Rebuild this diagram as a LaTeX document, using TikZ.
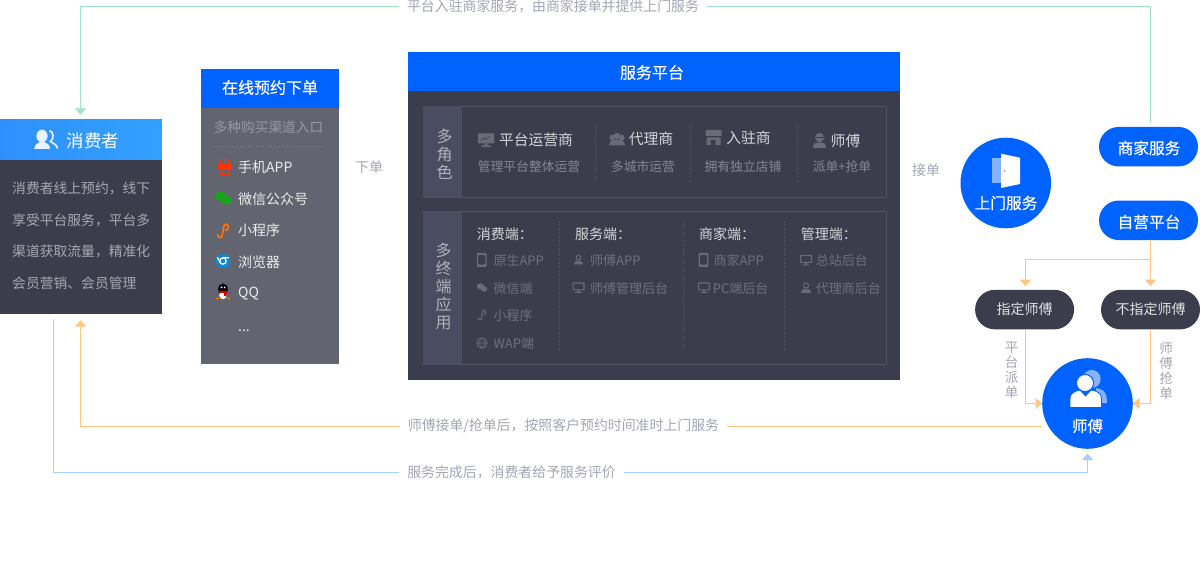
\documentclass[tikz,border=0pt]{standalone}
\usepackage{fontspec}
\setmainfont{Noto Sans CJK SC}
\newfontfamily\headfont[FakeBold=0.25]{Noto Sans CJK SC}
\usepackage{xcolor}
\usepackage{tikz}
\usetikzlibrary{arrows.meta,calc}
\definecolor{bluemain}{HTML}{0062FF}
\definecolor{bluelight}{HTML}{33A0FF}
\definecolor{bluepale}{HTML}{85B3FF}
\definecolor{darkbody}{HTML}{3B3D4D}
\definecolor{greybody}{HTML}{62646F}
\definecolor{sidebar}{HTML}{4A4D60}
\definecolor{rim}{HTML}{505265}
\definecolor{sepline}{HTML}{585A6C}
\definecolor{icondim}{HTML}{696B79}
\definecolor{txtlabel}{HTML}{A3A5B3}
\definecolor{txtbody}{HTML}{A8A9B2}
\definecolor{txtdim}{HTML}{6E707E}
\definecolor{txtsub}{HTML}{858794}
\definecolor{txthead}{HTML}{D5D6DB}
\definecolor{linegreen}{HTML}{9FE3C4}
\definecolor{lineorange}{HTML}{FFC67F}
\definecolor{lineblue}{HTML}{A6D0FA}
\tikzset{
  pics/monitoricon/.style={code={
    \fill[#1,even odd rule,rounded corners=0.5pt] (-6,-5) rectangle (6,3) (-4.8,-3.8) rectangle (4.8,1.8);
    \fill[#1] (-1.2,3) rectangle (1.2,4.6) (-3.5,4.6) rectangle (3.5,5.5);
  }},
  pics/screenicon/.style={code={
    \fill[#1,rounded corners=0.5pt] (-8,-6.5) rectangle (8,3.5);
    \draw[darkbody,line width=0.7pt] (-5,0.5) -- (-2,-2) -- (0,-0.5) -- (4,-4);
    \fill[#1] (-1.5,3.5) rectangle (1.5,5.5) (-4.5,5.5) rectangle (4.5,7);
  }},
  pics/phoneicon/.style={code={
    \fill[#1,even odd rule,rounded corners=1pt] (-4.8,-7) rectangle (4.8,7) (-3.6,-5) rectangle (3.6,4.6);
  }},
  pics/personicon/.style={code={
    \draw[#1,line width=1pt] (0,-2.5) circle (2.6);
    \fill[#1] (-5,5) .. controls (-5,1.5) and (-2.5,1) .. (-1.5,1) -- (1.5,1) .. controls (2.5,1) and (5,1.5) .. (5,5) -- cycle;
  }},
  pics/bigpersonicon/.style={code={
    \fill[#1] (0,-3) circle (4.6);
    \fill[#1] (-6.5,7.5) .. controls (-6.5,3) and (-4,2) .. (-2,2) -- (2,2) .. controls (4,2) and (6.5,3) .. (6.5,7.5) -- cycle;
    \fill[darkbody] (-4.5,-3.5) rectangle (4.5,-2.7);
  }},
  pics/peopleicon/.style={code={
    \fill[#1] (-4.8,-2) circle (2.8) (4.8,-2) circle (2.8) (0,-3.5) circle (3.2);
    \fill[#1] (-8,6) .. controls (-8,0.5) and (-3,0) .. (0,0) .. controls (3,0) and (8,0.5) .. (8,6) -- cycle;
  }},
  pics/shopicon/.style={code={
    \fill[#1,rounded corners=1pt] (-8,-7.5) rectangle (8,-1);
    \fill[#1,even odd rule] (-7,0) rectangle (7,7.5) (-3,2.5) rectangle (2,7.5);
    \draw[darkbody,line width=0.6pt] (-8,-1) -- (8,-1);
  }},
  pics/wechaticon/.style={code={
    \fill[#1] (-1.8,-1.3) ellipse (4.2 and 3.6);
    \fill[#1] (2.6,1.8) ellipse (3.8 and 3.2);
  }},
  pics/linkicon/.style={code={
    \draw[#1,line cap=round] (-4.5,3) .. controls (-4.5,6.5) and (-0.5,6.5) .. (-0.5,3) -- (0.5,-3) .. controls (0.5,-6.5) and (4.5,-6.5) .. (4.5,-3) .. controls (4.5,-1) and (3,-0.5) .. (2,-0.5);
  }},
  pics/globeicon/.style={code={
    \draw[#1,line width=0.8pt] (0,0) circle (5.2) (0,0) ellipse (2.4 and 5.2) (-5.2,0) -- (5.2,0);
  }},
  pics/phoneredicon/.style={code={
    \draw[#1,line width=1.4pt,rounded corners=1pt] (-4.5,-7.5) rectangle (4.5,7.5);
    \fill[#1,rounded corners=1pt] (-7,-3) rectangle (7,2.5);
  }},
  pics/chromeicon/.style={code={
    \fill[#1] (0,0) circle (7.2);
    \draw[white,line width=1.2pt] (0,0) circle (3.2);
    \draw[white,line width=1.2pt] (0,-3.2) -- (6,-3.2) (-2.8,1.6) -- (-5.6,-3.6);
  }},
  pics/penguinicon/.style={code={
    \fill[black] (0,-2.5) ellipse (4.8 and 6);
    \fill[white] (0,3.2) ellipse (3.8 and 4);
    \fill[red!85!black] (-4.5,-1.2) rectangle (4.5,1) (1,1) rectangle (3.5,3.8);
    \fill[orange] (-5.5,6.5) ellipse (1.5 and 1) (5.5,6.5) ellipse (1.5 and 1);
    \fill[white] (-1.6,-4.6) circle (1) (1.6,-4.6) circle (1);
  }},
}
\begin{document}
\begin{tikzpicture}[x=1pt,y=-1pt,
  panel/.style n args={3}{rectangle,fill=#1,minimum width=#2pt,minimum height=#3pt,inner sep=0pt},
  pill/.style n args={2}{rectangle,fill=#1,text=#2,minimum width=99pt,minimum height=39.5pt,rounded corners=19.7pt,inner sep=0pt,font=\headfont\fontsize{15.7}{15.7}\selectfont},
  disc/.style={circle,fill=bluemain,minimum size=90.6pt,inner sep=0pt},
  sz/.style n args={2}{inner sep=0pt,text=#1,font=\fontsize{#2}{#2}\selectfont},
  hd/.style n args={2}{inner sep=0pt,text=#1,font=\headfont\fontsize{#2}{#2}\selectfont},
  toleft/.style={anchor=west},
  vert/.style={align=center,font=\fontsize{#1}{#1}\selectfont,inner sep=0pt},
  flowlbl/.style={inner sep=0pt,inner xsep=8pt,text=txtlabel,font=\fontsize{13.9}{14}\selectfont},
  flow/.style={#1,line width=1pt},
  tip/.style={-{Triangle[length=6.5pt,width=11pt]}},
  sep/.style={sepline,line width=0.6pt,dotted},
  ]
\useasboundingbox (0,0) rectangle (1200,580);
% consumer
\node[panel={darkbody}{162}{195}] (cust) at (80.5,216.5) {};
\node[panel={bluelight}{162}{39.5},left color=bluelight!90!blue,right color=bluelight] (custhead) at (80.5,139.75) {};
\fill[white!88!bluelight] (42,136) ellipse (5.6 and 6.4);
\fill[white!88!bluelight] (34.3,149) .. controls (34.3,144) and (38,143.5) .. (40,142) -- (44,142) .. controls (47,143.5) and (50,144) .. (50,149) -- cycle;
\draw[white!88!bluelight,line width=1.6pt] (49.5,130.5) .. controls (54,132) and (54,139) .. (50.5,141.5) .. controls (53,144) and (57,144) .. (57.5,148.5);
\node[sz={white}{17.5}] (custtitle) at (93,140.7) {消费者};
\foreach \y/\1/\2 in %
{188.3/消费者线上预约，线下/a,220/享受平台服务，平台多/b,251.7/渠道获取流量，精准化/c,283/会员营销、会员管理/d} {
   \node[sz={txtbody}{13.8},toleft] (cust\2) at (12,\y) {\1};
}
% online order
\node[panel={greybody}{138}{295}] (order) at (270,216.5) {};
\node[panel={bluemain}{138}{39}] (orderhead) at (270,88.5) {};
\node[hd={white}{16}] (ordertitle) at (270,87.5) {在线预约下单};
\node[sz={txtlabel!80!greybody}{13.7},toleft] (ordersub) at (213.5,127.7) {多种购买渠道入口};
\draw[sep,sepline!60!greybody!80!white] (214,146) -- (323,146);
\foreach \y/\1/\2 in %
{167/手机APP/a,199/微信公众号/b,230.5/小程序/c,261.7/浏览器/d,293.5/QQ/e,331/{...}/f} {
   \node[sz={white!88!greybody}{14},toleft] (order\2) at (238,\y) {\1};
}
\pic at (224.5,167) {phoneredicon=red!60!orange};
\pic[scale=1.35] at (223,198) {wechaticon={green!60!black!90!white}};
\pic[scale=1.2] at (223,231) {linkicon={orange!90!red,line width=1.7pt}};
\pic at (223,261) {chromeicon={cyan!70!blue}};
\pic at (223,292) {penguinicon};
% platform
\node[panel={darkbody}{492}{328.5}] (plat) at (654,216.2) {};
\node[panel={bluemain}{492}{39.3}] (plathead) at (654,71.7) {};
\node[hd={white}{16}] (plattitle) at (652,72.5) {服务平台};
\node[panel={darkbody}{463}{90.7},draw=rim] (roles) at (654.2,151.4) {};
\node[panel={sidebar}{39.3}{90.7}] (roleside) at (442.4,151.4) {};
\node[vert=16,text=txtbody!90!white] (roletxt) at (444.5,154.3) {多\\[2pt]角\\[2pt]色};
\node[panel={darkbody}{463}{152.6},draw=rim] (ends) at (654.2,288) {};
\node[panel={sidebar}{39.3}{152.6}] (endside) at (442.4,288) {};
\node[vert=16,text=txtbody!90!white] (endtxt) at (443.5,286.7) {多\\[2pt]终\\[2pt]端\\[2pt]应\\[2pt]用};
\foreach \x/\y/\1/\2 in %
{536/139.8/平台运营商/a,651/139.2/代理商/b,748.5/138.2/入驻商/c,845.5/140.5/师傅/d} {
   \node[sz={txthead}{14.8}] (role\2) at (\x,\y) {\1};
}
\foreach \x/\1/\2 in %
{529/管理平台整体运营/a,643/多城市运营/b,743/拥有独立店铺/c,842/派单+抢单/d} {
   \node[sz={txtsub}{12.8}] (rolesub\2) at (\x,167) {\1};
}
\foreach \x in {595.5,690.5,797.5} {
   \draw[sep] (\x,124) -- (\x,182.7);
}
\pic at (486,140) {screenicon=icondim};
\pic at (617,139.5) {peopleicon=icondim};
\pic at (713.7,137.5) {shopicon=icondim};
\pic at (819.5,140.5) {bigpersonicon=icondim};
\foreach \x/\1/\2 in %
{476.7/消费端：/a,575/服务端：/b,699/商家端：/c,800.7/管理端：/d} {
   \node[sz={txthead}{14},toleft] (endhead\2) at (\x,234.3) {\1};
}
\foreach \x/\y/\1/\2 in %
{493.3/260.7/原生APP/a,493.3/288.2/微信端/b,493.3/315.5/小程序/c,493.3/343.2/WAP端/d,
 590/260.7/师傅APP/e,590/288.5/师傅管理后台/f,
 713.3/260.7/商家APP/g,712.7/288.5/PC端后台/h,
 815.7/260.7/总站后台/i,815.7/288.5/代理商后台/j} {
   \node[sz={txtdim}{13},toleft] (item\2) at (\x,\y) {\1};
}
\foreach \x in {559.5,683.5,784.5} {
   \draw[sep] (\x,221.7) -- (\x,351.7);
}
\pic at (481.7,260) {phoneicon=icondim};
\pic[scale=0.85] at (482,287.5) {wechaticon=icondim};
\pic[scale=0.85] at (482,315) {linkicon={icondim,line width=1pt}};
\pic at (482,343) {globeicon=icondim};
\pic[scale=0.9] at (578.5,260) {personicon=icondim};
\pic at (578.5,287.5) {monitoricon=icondim};
\pic at (703.5,260) {phoneicon=icondim};
\pic at (704,287.5) {monitoricon=icondim};
\pic at (806,260) {monitoricon=icondim};
\pic at (806,288) {personicon=icondim};
% plain labels
\node[sz={txtlabel}{14}] (lblorder) at (369,167.5) {下单};
\node[sz={txtlabel}{14}] (lbltake) at (926,170) {接单};
% door service
\node[disc] (door) at (1005.8,183) {};
\fill[bluepale] (992,158) rectangle (1001,183);
\fill[white] (1001,153.7) -- (1020,157.7) -- (1020,184) -- (1001,188) -- cycle;
\fill[bluepale] (1004.5,171) circle (1.2);
\node[hd={white}{15.7}] (doortxt) at (1006,203) {上门服务};
% right column
\node[pill={bluemain}{white}] (biz) at (1148.5,146.7) {};
\node[hd={white}{15.7}] (biztxt) at (1149,148) {商家服务};
\node[pill={bluemain}{white}] (self) at (1148.5,220.3) {};
\node[hd={white}{15.7}] (selftxt) at (1149,222) {自营平台};
\node[pill={darkbody}{white!85!darkbody},font=\fontsize{14}{14}\selectfont] (assign) at (1024.6,309.6) {\raisebox{-0.6pt}{指定师傅}};
\node[pill={darkbody}{white!85!darkbody},font=\fontsize{14}{14}\selectfont] (free) at (1150.5,309.6) {\raisebox{-0.6pt}{不指定师傅}};
\coordinate (fork) at (1150.5,259.5);
\coordinate (forkl) at (1025.5,259.5);
% master
\node[disc] (master) at (1087.5,403.5) {};
\fill[bluepale] (1091.7,379) circle (9);
\fill[bluepale] (1096,388) .. controls (1103,388.5) and (1106.8,393) .. (1106.8,399) -- (1106.8,403) -- (1096,403) -- cycle;
\fill[white,draw=bluemain,line width=1pt] (1085,383) circle (8.6);
\fill[white,draw=bluemain,line width=0.8pt] (1070,407.5) -- (1070,398.5) .. controls (1070,393) and (1075,391) .. (1080,390) -- (1085.5,396) -- (1091,390) .. controls (1097,391) and (1101.5,393) .. (1101.5,398.5) -- (1101.5,407.5) -- cycle;
\node[hd={white}{15.5}] (mastertxt) at (1087.5,426) {师傅};
\node[vert=13.5,text=txtlabel] (pushlbl) at (1011.7,370.5) {平\\[1.5pt]台\\[1.5pt]派\\[1.5pt]单};
\node[vert=13.5,text=txtlabel] (grablbl) at (1166,370.5) {师\\[1.5pt]傅\\[1.5pt]抢\\[1.5pt]单};
% flows
\node[flowlbl] (joinlbl) at (553,6.5) {平台入驻商家服务，由商家接单并提供上门服务};
\draw[flow=linegreen,shorten <=4pt] (biz.north -| fork) |- (joinlbl);
\draw[flow=linegreen,tip,shorten >=4pt] (joinlbl) -| (cust.north);
\node[flowlbl] (visitlbl) at (563.5,425.5) {师傅接单/抢单后，按照客户预约时间准时上门服务};
\draw[flow=lineorange] (master.west |- 0,426.5) -- (visitlbl.east |- 0,426.5);
\draw[flow=lineorange,tip,shorten >=6pt] (visitlbl.west |- 0,426.5) -| (cust.south);
\node[flowlbl] (ratelbl) at (511.5,472.5) {服务完成后，消费者给予服务评价};
\coordinate (custout) at (53.5,319);
\draw[flow=lineblue] (custout) |- (ratelbl);
\draw[flow=lineblue,tip,shorten >=4.5pt] (ratelbl) -| (master.south);
\draw[flow=lineorange] (self.south -| fork) -- (fork);
\draw[flow=lineorange,tip,shorten >=3.5pt] (fork) -- (free.north);
\draw[flow=lineorange,tip,shorten >=3.5pt] (fork) -- (forkl) -- (forkl |- assign.north);
\draw[flow=lineorange,tip] (forkl |- assign.south) |- (master.west);
\draw[flow=lineorange,tip] (free.south) |- (master.east);
\end{tikzpicture}
\end{document}
